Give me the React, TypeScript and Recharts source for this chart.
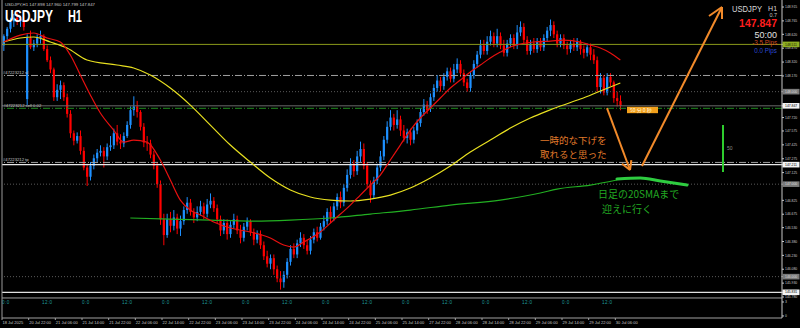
import React from 'react';
import { ComposedChart, Bar, Line, XAxis, YAxis, ReferenceLine, ReferenceDot } from 'recharts';

// ---------- data ----------
// H1 candles: [open, high, low, close]
const candles: [number, number, number, number][] = [
  [148.50,148.62,148.44,148.60],[148.60,148.70,148.56,148.68],[148.68,148.80,148.64,148.76],[148.76,148.84,148.70,148.80],
  [148.80,148.86,148.72,148.76],[148.76,148.82,148.70,148.78],[148.78,148.82,148.66,148.70],[147.92,148.62,147.85,148.58],
  [148.58,148.66,148.46,148.48],[148.48,148.56,148.44,148.52],[148.52,148.62,148.48,148.58],[148.58,148.66,148.52,148.60],
  [148.60,148.62,148.44,148.46],[148.46,148.50,148.32,148.34],[148.34,148.38,148.20,148.24],[148.24,148.26,147.90,147.94],
  [147.94,148.08,147.90,148.02],[148.02,148.12,147.92,148.07],[148.07,148.10,147.90,147.94],[147.94,147.98,147.72,147.76],
  [147.76,147.80,147.50,147.55],[147.55,147.58,147.42,147.47],[147.47,147.56,147.44,147.52],[147.52,147.58,147.32,147.36],
  [147.36,147.40,147.15,147.18],[147.18,147.22,146.98,147.08],[147.08,147.24,147.04,147.20],[147.20,147.32,147.16,147.28],
  [147.28,147.38,147.24,147.34],[147.34,147.42,147.30,147.36],[147.36,147.40,147.18,147.30],[147.30,147.44,147.26,147.40],
  [147.40,147.52,147.36,147.42],[147.42,147.60,147.38,147.55],[147.55,147.64,147.42,147.46],[147.46,147.54,147.38,147.44],
  [147.44,147.56,147.40,147.52],[147.52,147.68,147.50,147.64],[147.64,147.84,147.60,147.80],[147.80,147.95,147.74,147.84],
  [147.84,147.90,147.72,147.78],[147.78,147.80,147.58,147.62],[147.62,147.66,147.40,147.45],[147.45,147.52,147.36,147.44],
  [147.44,147.48,147.28,147.32],[147.32,147.36,147.16,147.20],[147.20,147.24,146.96,147.00],[147.00,147.04,146.56,146.62],
  [146.62,146.68,146.34,146.45],[146.45,146.68,146.42,146.62],[146.62,146.70,146.48,146.55],[146.55,146.72,146.50,146.64],
  [146.64,146.68,146.46,146.52],[146.52,146.66,146.44,146.60],[146.60,146.76,146.56,146.72],[146.72,146.86,146.68,146.80],
  [146.80,146.84,146.66,146.70],[146.70,146.74,146.58,146.64],[146.64,146.76,146.60,146.70],[146.70,146.82,146.66,146.76],
  [146.76,146.80,146.62,146.68],[146.68,146.84,146.64,146.78],[146.78,146.90,146.74,146.82],[146.82,146.86,146.70,146.74],
  [146.74,146.78,146.58,146.62],[146.62,146.66,146.44,146.50],[146.50,146.62,146.46,146.58],[146.58,146.62,146.40,146.46],
  [146.46,146.60,146.42,146.56],[146.56,146.68,146.52,146.62],[146.62,146.66,146.46,146.50],[146.50,146.56,146.36,146.42],
  [146.42,146.58,146.38,146.54],[146.54,146.64,146.50,146.60],[146.60,146.62,146.44,146.48],[146.48,146.52,146.34,146.40],
  [146.40,146.50,146.36,146.46],[146.46,146.50,146.30,146.34],[146.34,146.38,146.18,146.22],[146.22,146.28,146.10,146.14],
  [146.14,146.24,146.08,146.20],[146.20,146.24,146.02,146.08],[146.08,146.12,145.94,145.98],[145.98,146.06,145.86,145.94],
  [145.94,146.06,145.88,146.02],[146.02,146.20,145.98,146.16],[146.16,146.34,146.12,146.30],[146.30,146.36,146.20,146.24],
  [146.24,146.40,146.20,146.36],[146.36,146.48,146.32,146.42],[146.42,146.46,146.30,146.34],[146.34,146.40,146.24,146.28],
  [146.28,146.44,146.24,146.40],[146.40,146.52,146.36,146.48],[146.48,146.54,146.38,146.42],[146.42,146.58,146.40,146.54],
  [146.54,146.66,146.50,146.60],[146.60,146.74,146.56,146.70],[146.70,146.76,146.58,146.64],[146.64,146.80,146.60,146.76],
  [146.76,146.90,146.72,146.86],[146.86,146.92,146.74,146.80],[146.80,147.00,146.76,146.96],[146.96,147.16,146.92,147.10],
  [147.10,147.28,147.06,147.22],[147.22,147.26,147.08,147.14],[147.14,147.36,147.10,147.30],[147.30,147.46,147.24,147.38],
  [147.38,147.44,147.16,147.20],[147.20,147.24,146.96,147.00],[147.00,147.04,146.80,146.88],[146.88,147.08,146.84,147.04],
  [147.04,147.22,147.00,147.18],[147.18,147.36,147.14,147.30],[147.30,147.52,147.26,147.48],[147.48,147.68,147.44,147.62],
  [147.62,147.80,147.58,147.72],[147.72,147.76,147.58,147.64],[147.64,147.80,147.60,147.70],[147.70,147.74,147.52,147.58],
  [147.58,147.64,147.46,147.50],[147.50,147.60,147.44,147.56],[147.56,147.60,147.42,147.48],[147.48,147.62,147.44,147.58],
  [147.58,147.70,147.54,147.66],[147.66,147.82,147.62,147.78],[147.78,147.92,147.74,147.86],[147.86,147.90,147.76,147.80],
  [147.82,147.98,147.78,147.94],[147.94,148.08,147.90,148.04],[148.04,148.18,148.00,148.12],[148.12,148.16,148.00,148.06],
  [148.06,148.20,148.02,148.16],[148.16,148.26,148.12,148.22],[148.22,148.26,148.10,148.14],[148.14,148.30,148.10,148.24],
  [148.24,148.36,148.20,148.30],[148.30,148.34,148.16,148.20],[148.20,148.24,148.06,148.10],[148.10,148.14,148.00,148.04],
  [148.04,148.22,148.00,148.18],[148.18,148.34,148.14,148.30],[148.30,148.44,148.26,148.40],[148.40,148.56,148.36,148.50],
  [148.50,148.56,148.40,148.44],[148.44,148.60,148.40,148.54],[148.54,148.66,148.50,148.60],[148.60,148.64,148.48,148.52],
  [148.52,148.68,148.48,148.60],[148.60,148.64,148.46,148.50],[148.50,148.56,148.38,148.42],[148.42,148.56,148.38,148.52],
  [148.52,148.62,148.48,148.58],[148.58,148.62,148.46,148.50],[148.50,148.72,148.46,148.64],[148.64,148.76,148.60,148.70],
  [148.70,148.74,148.52,148.56],[148.56,148.60,148.40,148.44],[148.44,148.56,148.40,148.52],[148.52,148.58,148.42,148.46],
  [148.46,148.58,148.42,148.54],[148.54,148.58,148.44,148.48],[148.48,148.62,148.44,148.58],[148.58,148.70,148.54,148.66],
  [148.66,148.78,148.60,148.72],[148.72,148.76,148.58,148.62],[148.62,148.66,148.48,148.52],[148.52,148.62,148.48,148.58],
  [148.58,148.62,148.46,148.50],[148.50,148.54,148.40,148.46],[148.46,148.56,148.42,148.52],[148.52,148.58,148.44,148.48],
  [148.48,148.58,148.44,148.54],[148.54,148.56,148.40,148.46],[148.46,148.50,148.36,148.42],[148.42,148.52,148.38,148.48],
  [148.48,148.52,148.34,148.40],[148.40,148.46,148.30,148.34],[148.34,148.38,148.00,148.05],[148.05,148.20,147.98,148.15],
  [148.15,148.18,147.96,147.99],[147.99,148.20,147.96,148.16],[148.16,148.20,148.06,148.10],[148.10,148.12,147.88,147.93],
  [147.93,148.00,147.84,147.90],[147.898,147.960,147.799,147.847],
];

// moving averages: [bar index, price]
const redMA: [number, number][] = [
  [0,148.537],[5,148.612],[9,148.634],[13,148.58],[17,148.537],[20,148.396],[23,148.18],[26,147.964],[29,147.769],
  [33,147.585],[36,147.455],[39,147.477],[43,147.455],[47,147.261],[50,147.045],[53,146.828],[56,146.72],[59,146.666],
  [63,146.591],[68,146.526],[74,146.483],[80,146.418],[84,146.342],[87,146.32],[90,146.374],[95,146.483],[99,146.612],
  [104,146.774],[107,146.882],[110,146.99],[113,147.099],[116,147.261],[119,147.423],[122,147.585],[125,147.715],
  [128,147.823],[131,147.931],[134,148.039],[137,148.126],[140,148.212],[143,148.288],[146,148.364],[149,148.428],
  [152,148.483],[155,148.515],[159,148.537],[164,148.547],[168,148.558],[173,148.537],[176,148.504],[179,148.472],
  [182,148.418],[185,148.342],
];
const yellowMA: [number, number][] = [
  [0,148.537],[5,148.58],[9,148.591],[14,148.537],[19,148.472],[25,148.342],[34,148.288],[39,148.256],[44,148.18],
  [50,148.039],[56,147.855],[62,147.639],[68,147.423],[74,147.239],[80,147.066],[86,146.937],[92,146.861],[98,146.828],
  [104,146.818],[110,146.839],[116,146.882],[122,146.958],[128,147.066],[134,147.196],[140,147.347],[146,147.477],
  [152,147.607],[158,147.715],[163,147.79],[167,147.845],[173,147.92],[179,148.007],[185,148.093],
];
const dailyMA: [number, number][] = [
  [38,146.634],[50,146.623],[62,146.612],[74,146.601],[86,146.612],[98,146.634],[110,146.677],[122,146.72],
  [134,146.774],[149,146.828],[161,146.904],[166,146.947],[176,146.99],[184,147.045],
];
const handDrawnMA: [number, number][] = [[184,147.056],[191,147.066],[197,147.034],[205,146.99]];

const dateLabels = [
  '18 Jul 2025','20 Jul 22:00','21 Jul 06:00','21 Jul 14:00','21 Jul 22:00','22 Jul 06:00','22 Jul 14:00','22 Jul 22:00',
  '23 Jul 06:00','23 Jul 14:00','23 Jul 22:00','24 Jul 06:00','24 Jul 14:00','24 Jul 22:00','25 Jul 06:00','25 Jul 14:00',
  '27 Jul 22:00','28 Jul 06:00','28 Jul 14:00','28 Jul 22:00','29 Jul 06:00','29 Jul 14:00','29 Jul 22:00','30 Jul 06:00',
];
const priceTicks = [148.915,148.765,148.620,148.470,148.320,148.170,147.720,147.575,147.425,147.275,147.125,
  146.825,146.675,146.530,146.380,146.230,146.080,145.930,145.780];
const subWindowTicks: { v: number; label: string }[] = [{ v: 145.726, label: '3' }, { v: 145.575, label: '0' }];
const markedPrices: { v: number; kind: 'green' | 'gray' | 'white' }[] = [
  { v: 148.511, kind: 'green' }, { v: 148.000, kind: 'gray' }, { v: 147.847, kind: 'white' }, { v: 147.211, kind: 'white' },
  { v: 147.000, kind: 'gray' }, { v: 146.000, kind: 'gray' }, { v: 145.831, kind: 'white' },
];
const levels = { resist: 148.511, sl: 148.175, round1: 148.0, bid: 147.847, entry: 147.82, tp: 147.235,
  hline: 147.211, round2: 147.0, round3: 146.0, low: 145.831, separator: 145.7694 };

const arrowDown: [number, number][] = [[181.0,147.823],[187.9,147.153]];
const arrowDownHead: [number, number][] = [[185.5,147.221],[187.9,147.153],[188.3,147.261]];
const arrowUp: [number, number][] = [[191.5,147.196],[215.5,148.915]];
const arrowUpHead: [number, number][] = [[211.6,148.818],[215.5,148.915],[215.5,148.785]];
const rangeBar: [number, number][] = [[215.8,147.640],[215.8,147.132]];

const SLOTS = 234;
const PRICE_DOMAIN: [number, number] = [145.553, 148.991];
const BULL = '#1e90ff';
const BEAR = '#ff0000';
const SANS = 'Liberation Sans, Arial, sans-serif';
const JP = 'Noto Sans CJK JP, sans-serif';

const toMap = (a: [number, number][]) => new Map(a.map(([i, v]) => [i, v] as [number, number]));
const redMap = toMap(redMA), yelMap = toMap(yellowMA), dayMap = toMap(dailyMA), handMap = toMap(handDrawnMA);

const rows = Array.from({ length: SLOTS }, (_, i) => {
  const row: any = { i };
  const k = candles[i];
  if (k) {
    const [o, h, l, c] = k;
    Object.assign(row, { o, h, l, c, range: [l, h] });
  }
  if (redMap.has(i)) row.red = redMap.get(i);
  if (yelMap.has(i)) row.yel = yelMap.get(i);
  if (dayMap.has(i)) row.day = dayMap.get(i);
  if (handMap.has(i)) row.hand = handMap.get(i);
  return row;
});

const xTicks = rows.map(r => r.i).filter(i => (i % 8 === 0 && i / 8 < dateLabels.length) || (i % 12 === 0 && i < candles.length));

// ---------- renderers ----------
const Candle = (props: any) => {
  const { x, y, width, height, payload } = props;
  if (!payload || payload.o == null) return null;
  const { o, h, l, c } = payload;
  const top = Math.min(y, y + height);
  const hh = Math.abs(height);
  const k = h > l ? hh / (h - l) : 0;
  const yo = top + (h - o) * k;
  const yc = top + (h - c) * k;
  const color = c >= o ? BULL : BEAR;
  const cx = x + width / 2;
  const bt = Math.min(yo, yc);
  const bh = Math.max(1, Math.abs(yc - yo));
  return (
    <g>
      <line x1={cx} x2={cx} y1={top} y2={top + hh} stroke={color} strokeWidth={1} />
      <rect x={cx - 1.1} y={bt} width={2.2} height={bh} fill={color} />
    </g>
  );
};

const YTick = (props: any) => {
  const { x, y, payload } = props;
  const v = payload.value;
  const mark = markedPrices.find(m => Math.abs(m.v - v) < 1e-6);
  const sub = subWindowTicks.find(s => Math.abs(s.v - v) < 1e-6);
  const label = sub ? sub.label : v.toFixed(3);
  let box: any = null;
  let fill = '#c8c8c8';
  if (mark) {
    const bg = mark.kind === 'green' ? '#8fae22' : mark.kind === 'gray' ? '#7a7a7a' : '#f4f4f4';
    fill = mark.kind === 'white' ? '#000' : mark.kind === 'green' ? '#1a1a00' : '#dcdcdc';
    box = <rect x={x - 2.5} y={y - 2.8} width={17} height={5.6} fill={bg} />;
  }
  return (
    <g>
      <line x1={x - 3} x2={x - 1} y1={y} y2={y} stroke="#c8c8c8" strokeWidth={1} />
      {box}
      <text x={x} y={y} dy="1.2" fontSize={3.4} fill={fill} fontFamily={SANS}>{label}</text>
    </g>
  );
};

const XTick = (props: any) => {
  const { x, y, payload } = props;
  const i = payload.value as number;
  const half = typeof payload.offset === 'number' && payload.offset > 0 ? payload.offset : 1.667;
  const left = x - half;
  const out: any[] = [];
  if (i % 8 === 0 && i / 8 < dateLabels.length) {
    out.push(<line key="t" x1={left} x2={left} y1={y} y2={y + 2} stroke="#a0a0a0" strokeWidth={1} />);
    out.push(<text key="d" x={left + 0.5} y={y + 6} fontSize={4} fill="#c8c8c8" fontFamily={SANS}>{dateLabels[i / 8]}</text>);
  }
  if (i % 12 === 0 && i < candles.length) {
    out.push(<text key="s" x={left} y={y - 14.5} fontSize={4.6} letterSpacing={0.4} fill="#1f9a9a" fontFamily={SANS}>{i % 24 === 0 ? '0:0' : '12:0'}</text>);
  }
  return <g>{out}</g>;
};

const seg = (a: [number, number], b: [number, number]) => [{ x: a[0], y: a[1] }, { x: b[0], y: b[1] }];

export default function App() {
  return (
    <div style={{ position: 'fixed', left: 0, top: 0, width: 800, height: 328, background: '#000', overflow: 'hidden' }}>
      <ComposedChart width={800} height={328} data={rows} margin={{ top: 0, right: 0, bottom: 0, left: 0 }}>
        <XAxis xAxisId="c" dataKey="i" type="category" height={10} ticks={xTicks} interval={0} tickSize={0} tickMargin={0}
          tick={(p: any) => <XTick {...p} />} tickLine={false} axisLine={{ stroke: '#a0a0a0' }} />
        <XAxis xAxisId="n" dataKey="i" type="number" domain={[-0.5, SLOTS - 0.5]} allowDataOverflow hide />
        <YAxis yAxisId="l" orientation="left" type="number" domain={[0, 1]} width={2} tick={false} tickLine={false}
          axisLine={{ stroke: '#9a9a9a' }} />
        <YAxis yAxisId="p" orientation="right" type="number" domain={PRICE_DOMAIN} allowDataOverflow width={18}
          ticks={[...priceTicks, ...subWindowTicks.map(s => s.v), ...markedPrices.map(m => m.v)]} interval={0}
          tickSize={2} tickMargin={1} tickLine={false} tick={(p: any) => <YTick {...p} />} axisLine={{ stroke: '#c8c8c8' }} />

        <ReferenceLine xAxisId="n" yAxisId="p" y={levels.resist} stroke="#8a9a1a" strokeWidth={1} />
        <ReferenceLine xAxisId="n" yAxisId="p" y={levels.sl} stroke="#a0a0a0" strokeDasharray="7 2 1 2"
          label={{ value: '#47223212 sl', position: 'insideBottomLeft', offset: 1, fill: '#c8c8c8', fontSize: 4.2, fontFamily: SANS }} />
        <ReferenceLine xAxisId="n" yAxisId="p" y={levels.round1} stroke="#5a5a5a" strokeDasharray="1 2" />
        <ReferenceLine xAxisId="n" yAxisId="p" y={levels.bid} stroke="#6a6a6a" strokeWidth={1} />
        <ReferenceLine xAxisId="n" yAxisId="p" y={levels.entry} stroke="#1f8a1f" strokeDasharray="7 2 1 2"
          label={{ value: '#47223212 sell 0.02', position: 'insideBottomLeft', offset: 1.5, fill: '#c8c8c8', fontSize: 4.2, fontFamily: SANS }} />
        <ReferenceLine xAxisId="n" yAxisId="p" y={levels.tp} stroke="#a0a0a0" strokeDasharray="7 2 1 2"
          label={{ value: '#47223212 tp', position: 'insideBottomLeft', offset: 1, fill: '#c8c8c8', fontSize: 4.2, fontFamily: SANS }} />
        <ReferenceLine xAxisId="n" yAxisId="p" y={levels.hline} stroke="#e8e8e8" strokeWidth={1.3} />
        <ReferenceLine xAxisId="n" yAxisId="p" y={levels.round2} stroke="#5a5a5a" strokeDasharray="1 2" />
        <ReferenceLine xAxisId="n" yAxisId="p" y={levels.round3} stroke="#5a5a5a" strokeDasharray="1 2" />
        <ReferenceLine xAxisId="n" yAxisId="p" y={levels.low} stroke="#e0e0e0" strokeWidth={1.3} />
        <ReferenceLine xAxisId="n" yAxisId="p" y={levels.separator} stroke="#a0a0a0" strokeWidth={1} />

        <Bar xAxisId="c" yAxisId="p" dataKey="range" isAnimationActive={false} shape={(p: any) => <Candle {...p} />} />
        <Line xAxisId="c" yAxisId="p" dataKey="day" type="monotone" stroke="#22b022" strokeWidth={1.2} dot={false} connectNulls isAnimationActive={false} />
        <Line xAxisId="c" yAxisId="p" dataKey="yel" type="monotone" stroke="#e8e020" strokeWidth={1.2} dot={false} connectNulls isAnimationActive={false} />
        <Line xAxisId="c" yAxisId="p" dataKey="red" type="monotone" stroke="#e81010" strokeWidth={1.2} dot={false} connectNulls isAnimationActive={false} />
        <Line xAxisId="c" yAxisId="p" dataKey="hand" type="monotone" stroke="#2ecc40" strokeWidth={3} strokeLinecap="round" dot={false} connectNulls isAnimationActive={false} />

        <ReferenceLine xAxisId="n" yAxisId="p" segment={seg(arrowDown[0], arrowDown[1])} stroke="#f28a2a" strokeWidth={2} ifOverflow="visible" />
        <ReferenceLine xAxisId="n" yAxisId="p" segment={seg(arrowDownHead[0], arrowDownHead[1])} stroke="#f28a2a" strokeWidth={2} ifOverflow="visible" />
        <ReferenceLine xAxisId="n" yAxisId="p" segment={seg(arrowDownHead[2], arrowDownHead[1])} stroke="#f28a2a" strokeWidth={2} ifOverflow="visible" />
        <ReferenceLine xAxisId="n" yAxisId="p" segment={seg(arrowUp[0], arrowUp[1])} stroke="#f28a2a" strokeWidth={2} ifOverflow="visible" />
        <ReferenceLine xAxisId="n" yAxisId="p" segment={seg(arrowUpHead[0], arrowUpHead[1])} stroke="#f28a2a" strokeWidth={2} ifOverflow="visible" />
        <ReferenceLine xAxisId="n" yAxisId="p" segment={seg(arrowUpHead[2], arrowUpHead[1])} stroke="#f28a2a" strokeWidth={2} ifOverflow="visible" />
        <ReferenceLine xAxisId="n" yAxisId="p" segment={seg(rangeBar[0], rangeBar[1])} stroke="#2ecc2e" strokeWidth={2} ifOverflow="visible" />

        <ReferenceDot xAxisId="n" yAxisId="p" x={217} y={147.369} r={0} ifOverflow="visible"
          shape={(p: any) => <text x={p.cx} y={p.cy} fontSize={5} fill="#8a8a8a" fontFamily={SANS}>50</text>} />
        <ReferenceDot xAxisId="n" yAxisId="p" x={187} y={147.802} r={0} ifOverflow="visible"
          shape={(p: any) => (
            <g transform={`translate(${p.cx},${p.cy})`}>
              <rect x={0} y={-3.2} width={31} height={6.4} fill="#f2a01c" />
              <text x={3} y={1.8} fontSize={5} fill="#fff6dc" fontFamily={JP}>50 分 0 秒</text>
            </g>
          )} />
        <ReferenceDot xAxisId="n" yAxisId="p" x={160.9} y={147.429} r={0} ifOverflow="visible"
          shape={(p: any) => (
            <g transform={`translate(${p.cx},${p.cy})`} fontFamily={JP} fontSize={9.5} fill="#e07a2a">
              <text x={0} y={0}>一時的な下げを</text>
              <text x={0} y={14}>取れると思った</text>
            </g>
          )} />
        <ReferenceDot xAxisId="n" yAxisId="p" x={178.3} y={146.85} r={0} ifOverflow="visible"
          shape={(p: any) => (
            <g transform={`translate(${p.cx},${p.cy})`} fontFamily={JP} fontSize={10} fill="#22a822">
              <text x={0} y={0}>日足の20SMAまで</text>
              <text x={4} y={14.5}>迎えに行く</text>
            </g>
          )} />
        <ReferenceDot xAxisId="n" yAxisId="p" x={0} y={148.98} r={0} ifOverflow="visible"
          shape={(p: any) => (
            <g transform={`translate(${p.cx},${p.cy})`}>
              <text x={1.3} y={4.5} fontSize={4.3} fill="#c8c8c8" fontFamily={SANS}>USDJPY,H1  147.898 147.960 147.799 147.847</text>
              <text x={1.3} y={21} fontSize={16} fontWeight="bold" fill="#ffffff" fontFamily={SANS} textLength={48} lengthAdjust="spacingAndGlyphs">USDJPY</text>
              <text x={64.3} y={21} fontSize={16} fontWeight="bold" fill="#ffffff" fontFamily={SANS} textLength={14} lengthAdjust="spacingAndGlyphs">H1</text>
            </g>
          )} />
        <ReferenceDot xAxisId="n" yAxisId="p" x={233} y={148.98} r={0} ifOverflow="visible"
          shape={(p: any) => (
            <g transform={`translate(${p.cx},${p.cy})`} fontFamily={SANS} textAnchor="end">
              <text x={-18.3} y={11} fontSize={8.5} fill="#d8d8d8" textLength={30} lengthAdjust="spacingAndGlyphs">USDJPY</text>
              <text x={-3.3} y={9.5} fontSize={7} fill="#d8d8d8">H1</text>
              <text x={-3.3} y={15.5} fontSize={5.5} fill="#c0c0c0">0.7</text>
              <text x={-3.3} y={26} fontSize={10.5} fontWeight="bold" fill="#ff1e1e">147.847</text>
              <text x={-3.3} y={36.5} fontSize={9} fill="#e0e0e0">50:00</text>
              <text x={-3.3} y={43.5} fontSize={6.3} fill="#d04a20">-3.5 Pips</text>
              <text x={-3.3} y={51.5} fontSize={6.3} fill="#2a48d0">0.0 Pips</text>
            </g>
          )} />
      </ComposedChart>
    </div>
  );
}
